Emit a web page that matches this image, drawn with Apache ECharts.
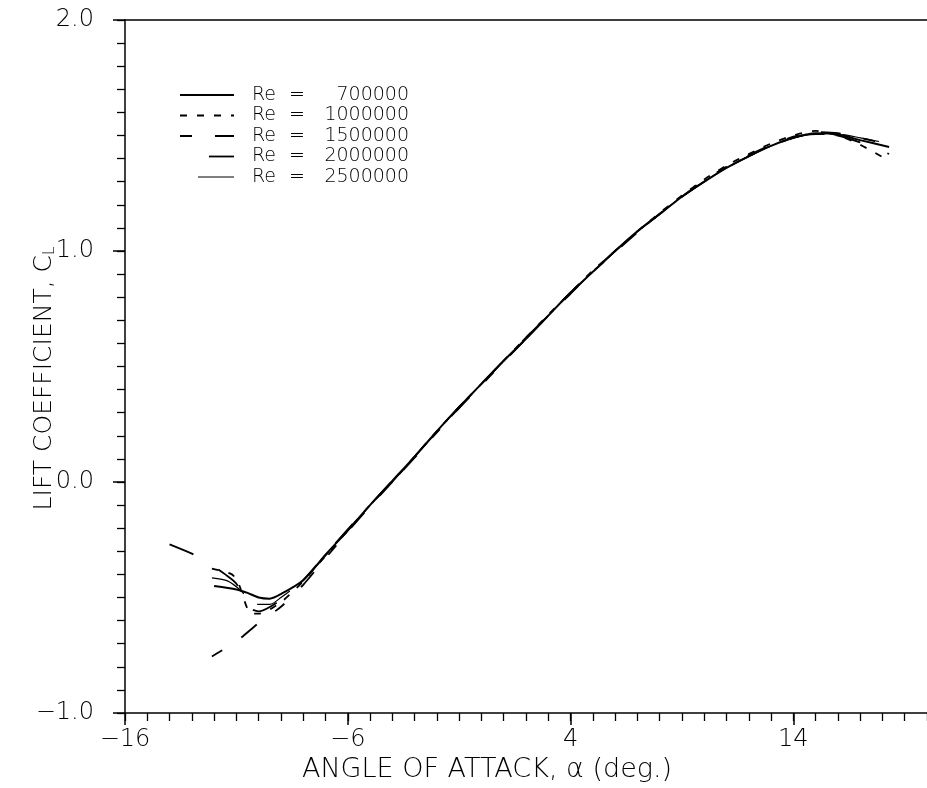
<!DOCTYPE html>
<html><head><meta charset="utf-8">
<script src="https://cdn.jsdelivr.net/npm/echarts@6/dist/echarts.min.js"></script>
<style>html,body{margin:0;padding:0;background:#fff}#c{width:927px;height:788px}</style>
</head><body><div id="c"></div>
<script>
const seriesNames = ['Re = 700000', 'Re = 1000000', 'Re = 1500000', 'Re = 2000000', 'Re = 2500000'];

const alpha700 = [-12, -11, -10.5, -10, -9.5, -9, -8, -7, -6, -5, -4, -3, -2, -1, 0, 1, 2, 3, 4, 5, 6, 7, 8, 9, 10, 11, 12, 13, 14, 15, 16, 17, 18.3];
const cl700 = [-0.45, -0.465, -0.48, -0.50, -0.505, -0.485, -0.425, -0.315, -0.21, -0.10, 0.005, 0.11, 0.22, 0.325, 0.425, 0.525, 0.62, 0.72, 0.82, 0.91, 1.0, 1.085, 1.16, 1.235, 1.30, 1.36, 1.41, 1.455, 1.49, 1.51, 1.505, 1.48, 1.45];

const alpha1000 = [-12.1, -11.2, -10.9, -10.4, -10, -9, -8, -7, -6, -5, -4, -3, -2, -1, 0, 1, 2, 3, 4, 5, 6, 7, 8, 9, 10, 11, 12, 13, 14, 15, 16, 17, 18.3];
const cl1000 = [-0.375, -0.40, -0.44, -0.565, -0.57, -0.52, -0.43, -0.32, -0.21, -0.10, 0.0, 0.11, 0.22, 0.325, 0.425, 0.525, 0.625, 0.725, 0.82, 0.915, 1.0, 1.085, 1.165, 1.24, 1.31, 1.37, 1.42, 1.465, 1.50, 1.52, 1.50, 1.46, 1.39];

const alpha1500 = [-12.1, -11, -10, -9, -8, -7, -6, -5, -4, -3, -2, -1, 0, 1, 2, 3, 4, 5, 6, 7, 8, 9, 10, 11, 12, 13, 14, 15, 16, 17, 18.3];
const cl1500 = [-0.755, -0.69, -0.61, -0.54, -0.445, -0.33, -0.215, -0.105, 0.0, 0.105, 0.215, 0.32, 0.42, 0.52, 0.62, 0.72, 0.815, 0.91, 0.995, 1.08, 1.16, 1.235, 1.305, 1.365, 1.415, 1.46, 1.495, 1.515, 1.51, 1.49, 1.46];

const alpha2000 = [-14, -13, -12.4, -11.5, -11, -10.5, -10, -9, -8, -7, -6, -5, -4, -3, -2, -1, 0, 1, 2, 3, 4, 5, 6, 7, 8, 9, 10, 11, 12, 13, 14, 15, 16, 17, 18.3];
const cl2000 = [-0.27, -0.31, -0.34, -0.40, -0.44, -0.54, -0.56, -0.51, -0.425, -0.315, -0.205, -0.10, 0.005, 0.11, 0.22, 0.325, 0.425, 0.525, 0.625, 0.72, 0.82, 0.91, 1.0, 1.085, 1.16, 1.235, 1.30, 1.36, 1.41, 1.455, 1.49, 1.51, 1.50, 1.47, 1.42];

const alpha2500 = [-12.1, -11.4, -10.8, -10.2, -9.5, -9, -8, -7, -6, -5, -4, -3, -2, -1, 0, 1, 2, 3, 4, 5, 6, 7, 8, 9, 10, 11, 12, 13, 14, 15, 16, 17, 18.3];
const cl2500 = [-0.415, -0.428, -0.47, -0.53, -0.53, -0.50, -0.425, -0.32, -0.21, -0.10, 0.0, 0.11, 0.215, 0.32, 0.425, 0.525, 0.62, 0.72, 0.815, 0.91, 1.0, 1.08, 1.16, 1.235, 1.30, 1.36, 1.41, 1.455, 1.49, 1.505, 1.505, 1.49, 1.465];

const xTickLabels = ['\u221216', '\u22126', '4', '14'];
const yTickLabels = ['\u22121.0', '0.0', '1.0', '2.0'];

const FONT = '"DejaVu Sans", "Liberation Sans", sans-serif';
const FW = 200;
const INK = '#000';

function pairs(a, c) { return a.map((v, i) => [v, c[i]]); }

const styles = [
  { width: 2, type: 'solid', legendOffset: 0 },
  { width: 1.8, type: [7, 10], legendOffset: 0 },
  { width: 1.8, type: [12, 23, 20, 23], legendOffset: 0 },
  { width: 1.8, type: [26, 29], legendOffset: 26 },
  { width: 1.2, type: [37, 18], legendOffset: 37 }
];
const datasets = [pairs(alpha700, cl700), pairs(alpha1000, cl1000), pairs(alpha1500, cl1500), pairs(alpha2000, cl2000), pairs(alpha2500, cl2500)];

const chart = echarts.init(document.getElementById('c'), null, { renderer: 'canvas' });

function xFmt(v) { const i = [-16, -6, 4, 14].indexOf(Math.round(v)); return i >= 0 ? xTickLabels[i] : ''; }
function yFmt(v) { const i = [-1, 0, 1, 2].indexOf(Math.round(v)); return i >= 0 ? yTickLabels[i] : ''; }

const txt = (size, extra) => Object.assign({ fontSize: size, color: INK, fontFamily: FONT, fontWeight: FW }, extra || {});

chart.setOption({
  animation: false,
  backgroundColor: '#fff',
  textStyle: { fontFamily: FONT, color: INK, fontWeight: FW },
  grid: { left: 125, right: -4, top: 20, bottom: 73, containLabel: false },
  legend: {
    orient: 'vertical', left: 179, top: 85, padding: 0, itemWidth: 54, itemHeight: 12, itemGap: 0.5,
    data: seriesNames.map((n, i) => ({
      name: n,
      lineStyle: { color: INK, width: styles[i].width, type: styles[i].type, dashOffset: styles[i].legendOffset }
    })),
    itemStyle: { opacity: 0 },
    formatter: name => '{r|Re}{e|=}{n|' + name.split('= ')[1] + '}',
    textStyle: txt(19, {
      lineHeight: 20,
      rich: {
        r: txt(19, { width: 37, padding: [0, 0, 0, 13] }),
        e: txt(19, { width: 30 }),
        n: txt(19, { width: 90, align: 'right' })
      }
    })
  },
  xAxis: [
    {
      type: 'value', position: 'bottom', min: -16, max: 20, interval: 10,
      axisLine: { show: true, onZero: false, lineStyle: { color: INK, width: 1.5 } },
      axisTick: { show: true, length: 12, lineStyle: { color: INK, width: 1.5 } },
      axisLabel: txt(24, { show: true, formatter: xFmt, showMaxLabel: false, margin: 15 }),
      splitLine: { show: false },
      name: 'ANGLE OF ATTACK, \u03b1 (deg.)', nameLocation: 'middle', nameGap: 43, nameMoveOverlap: false,
      nameTextStyle: txt(27, { padding: [0, 78, 0, 0] })
    },
    {
      type: 'value', position: 'bottom', min: -16, max: 20, interval: 1,
      axisLine: { show: false, onZero: false },
      axisTick: { show: true, length: 8, lineStyle: { color: INK, width: 1.3 } },
      axisLabel: { show: false }, splitLine: { show: false }
    },
    {
      type: 'value', position: 'top', min: -16, max: 20,
      axisLine: { show: true, onZero: false, lineStyle: { color: INK, width: 1.5 } },
      axisTick: { show: false }, axisLabel: { show: false }, splitLine: { show: false }
    }
  ],
  yAxis: [
    {
      type: 'value', position: 'left', min: -1, max: 2, interval: 1,
      axisLine: { show: true, onZero: false, lineStyle: { color: INK, width: 1.5 } },
      axisTick: { show: true, length: 12, lineStyle: { color: INK, width: 1.5 } },
      axisLabel: txt(24, { show: true, formatter: yFmt, margin: 31 }),
      splitLine: { show: false },
      name: '{t|LIFT COEFFICIENT, C}{s|L}', nameLocation: 'middle', nameGap: 67, nameRotate: 90, nameMoveOverlap: false,
      nameTextStyle: txt(25, {
        padding: [0, 24, 0, 0],
        rich: {
          t: txt(25),
          s: txt(15, { verticalAlign: 'bottom', padding: [12, 0, 0, 0] })
        }
      })
    },
    {
      type: 'value', position: 'left', min: -1, max: 2, interval: 0.1,
      axisLine: { show: false, onZero: false },
      axisTick: { show: true, length: 8, lineStyle: { color: INK, width: 1.3 } },
      axisLabel: { show: false }, splitLine: { show: false }
    }
  ],
  series: seriesNames.map((n, i) => ({
    name: n, type: 'line', xAxisIndex: 0, yAxisIndex: 0,
    data: datasets[i], showSymbol: false, symbol: 'none', smooth: 0.25,
    lineStyle: { color: INK, width: styles[i].width, type: styles[i].type },
    itemStyle: { color: INK }
  }))
});
</script></body></html>
